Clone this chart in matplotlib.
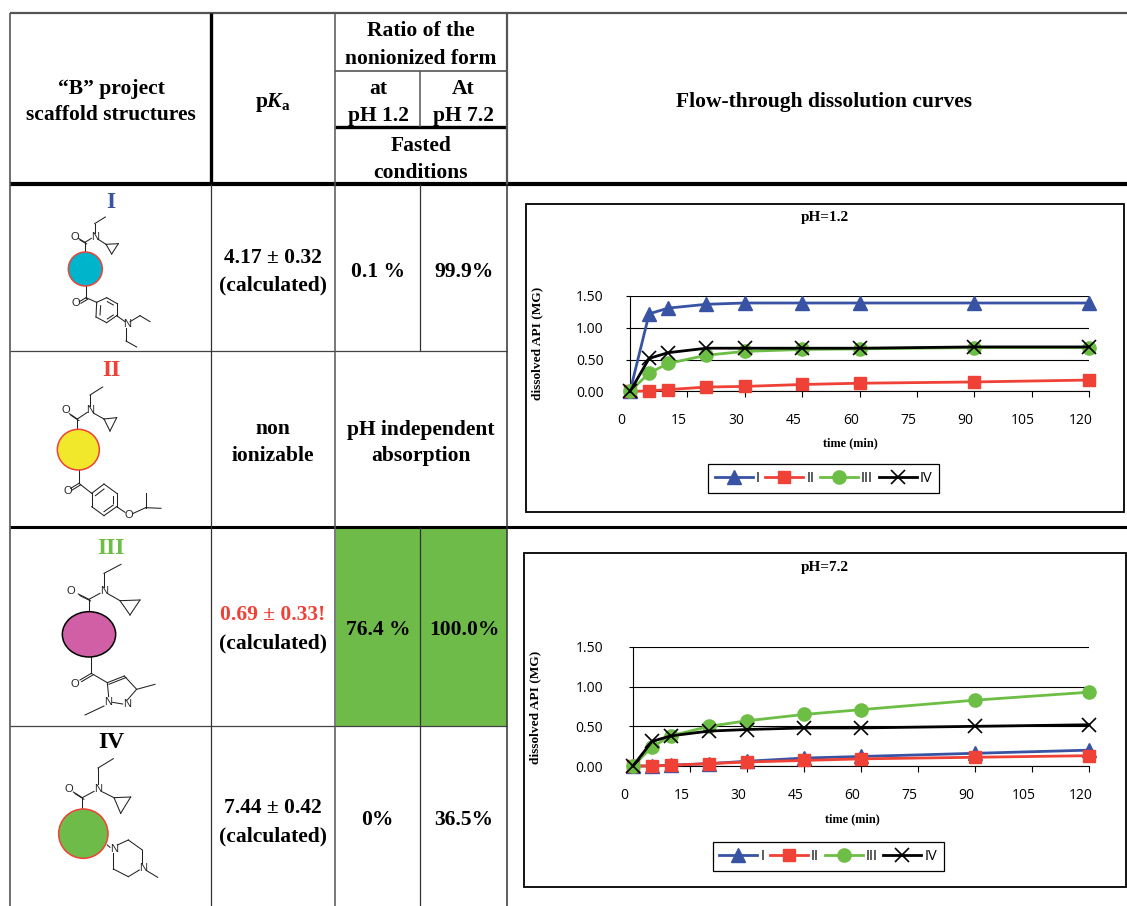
import matplotlib
matplotlib.use("Agg")
import matplotlib.pyplot as plt
from matplotlib.patches import Ellipse, Rectangle
from matplotlib.transforms import ScaledTranslation

W, H = 1127, 906
BLUE = "#3953A4"
RED = "#EF4136"
GREEN = "#6DBE45"

plt.rcParams["mathtext.fontset"] = "custom"
plt.rcParams["mathtext.rm"] = "Liberation Serif:bold"
plt.rcParams["mathtext.bf"] = "Liberation Serif:bold"
plt.rcParams["mathtext.it"] = "Liberation Serif:italic:bold"

# dissolution data
times = [0, 5, 10, 20, 30, 45, 60, 90, 120]
ph12_I = [0, 1.22, 1.31, 1.37, 1.39, 1.39, 1.39, 1.39, 1.39]
ph12_II = [0, 0.01, 0.03, 0.07, 0.08, 0.11, 0.13, 0.15, 0.18]
ph12_III = [0, 0.29, 0.44, 0.57, 0.63, 0.66, 0.67, 0.69, 0.69]
ph12_IV = [0, 0.52, 0.61, 0.68, 0.68, 0.68, 0.68, 0.70, 0.70]
ph72_I = [0, 0, 0.01, 0.03, 0.06, 0.10, 0.12, 0.16, 0.20]
ph72_II = [0, 0, 0.01, 0.03, 0.05, 0.07, 0.09, 0.11, 0.13]
ph72_III = [0, 0.24, 0.38, 0.50, 0.57, 0.65, 0.71, 0.83, 0.93]
ph72_IV = [0, 0.31, 0.38, 0.44, 0.46, 0.48, 0.48, 0.50, 0.52]
x_ticks = [0, 15, 30, 45, 60, 75, 90, 105, 120]
y_ticks = [0, 0.5, 1.0, 1.5]
y_tick_labels = ["0.00", "0.50", "1.00", "1.50"]

fig = plt.figure(figsize=(W / 100, H / 100), dpi=100, facecolor="white")

# overlay in pixel coordinates for the table and the structures
bg = fig.add_axes([0, 0, 1, 1])
bg.set_xlim(0, W)
bg.set_ylim(H, 0)
bg.axis("off")


def txt(x, y, s, size=15.5, color="black", **kw):
    bg.text(x, y + 2, s, fontsize=size, color=color, family="Liberation Serif",
            weight="bold", ha="center", va="center", **kw)


def hline(y, x0, x1, lw=1.0, color="black"):
    bg.plot([x0, x1], [y, y], color=color, lw=lw, solid_capstyle="butt", zorder=3)


def vline(x, y0, y1, lw=1.0, color="black"):
    bg.plot([x, x], [y0, y1], color=color, lw=lw, solid_capstyle="butt", zorder=3)


# green cells
bg.add_patch(Rectangle((336, 528), 171, 198, facecolor="#6FBB4A", edgecolor="none", zorder=1))

# table rules
hline(13, 10, W, 1.6, "#555555")
hline(184, 10, W, 3.0)
hline(527, 10, W, 2.2)
hline(351, 10, 507, 0.9, "#444444")
hline(726, 10, 507, 0.9, "#444444")
hline(71, 335, 507, 1.2, "#555555")
hline(127, 335, 507, 2.4)
vline(10, 13, H, 1.2, "#555555")
vline(211, 13, 184, 2.4)
vline(211, 184, H, 0.9, "#333333")
vline(335, 13, H, 1.1, "#555555")
vline(420, 71, 127, 1.1, "#555555")
vline(420, 184, 351, 0.9, "#333333")
vline(420, 527, H, 0.9, "#333333")
vline(507, 13, 184, 1.6, "#555555")
vline(507, 184, H, 1.1, "#333333")

# header text
txt(111, 87, "“B” project")
txt(111, 113, "scaffold structures")
txt(273, 101, r"$\mathrm{p}\mathit{K}_{\mathrm{a}}$")
txt(421, 29, "Ratio of the")
txt(421, 57, "nonionized form")
txt(378, 87, "at")
txt(378, 114, "pH 1.2")
txt(463, 87, "At")
txt(463, 114, "pH 7.2")
txt(421, 144, "Fasted")
txt(421, 171, "conditions")
txt(824, 100, "Flow-through dissolution curves")

# body text
txt(273, 256, "4.17 ± 0.32")
txt(273, 283, "(calculated)")
txt(378, 270, "0.1 %")
txt(464, 270, "99.9%")
txt(273, 427, "non")
txt(273, 454, "ionizable")
txt(421, 428, "pH independent")
txt(421, 454, "absorption")
txt(273, 613, "0.69 ± 0.33!", color=RED)
txt(273, 641, "(calculated)")
txt(378, 628, "76.4 %")
txt(464, 628, "100.0%")
txt(273, 806, "7.44 ± 0.42")
txt(273, 834, "(calculated)")
txt(377, 818, "0%")
txt(464, 818, "36.5%")

txt(111, 200, "I", size=17, color=BLUE)
txt(111, 369, "II", size=17, color=RED)
txt(111, 547, "III", size=17, color=GREEN)
txt(111, 741, "IV", size=17)


def molecule(ox, oy, bonds, doubles, atoms, blob):
    # coordinates are in a 3x sketch space, like the zoomed crops
    for a, b in bonds:
        bg.plot([ox + a[0] / 3, ox + b[0] / 3], [oy + a[1] / 3, oy + b[1] / 3],
                color="#222222", lw=0.75, zorder=4)
    for a, b in doubles:
        bg.plot([ox + a[0] / 3, ox + b[0] / 3], [oy + a[1] / 3, oy + b[1] / 3],
                color="#222222", lw=0.75, zorder=4)
        bg.plot([ox + a[0] / 3 + 1.6, ox + b[0] / 3 + 1.6], [oy + a[1] / 3 + 1.6, oy + b[1] / 3 + 1.6],
                color="#222222", lw=0.75, zorder=4)
    for x, y, s in atoms:
        bg.text(ox + x / 3, oy + y / 3, s, fontsize=8, family="Liberation Sans",
                color="#222222", ha="center", va="center", zorder=5)
    cx, cy, rx, ry, fc, ec = blob
    bg.add_patch(Ellipse((ox + cx / 3, oy + cy / 3), 2 * rx / 3, 2 * ry / 3,
                         facecolor=fc, edgecolor=ec, lw=1.1, zorder=4))


molecule(30, 185,
         [((226, 96), (194, 116)), ((194, 116), (194, 145)), ((203, 162), (228, 178)),
          ((228, 178), (265, 176)), ((265, 176), (245, 207)), ((245, 207), (228, 178)),
          ((184, 160), (165, 172)), ((165, 172), (165, 205)), ((168, 300), (168, 338)),
          ((168, 338), (200, 352)), ((200, 352), (230, 338)), ((230, 338), (260, 355)),
          ((260, 355), (260, 392)), ((260, 392), (230, 413)), ((230, 413), (198, 396)),
          ((198, 396), (200, 352)), ((212, 362), (210, 390)), ((232, 350), (250, 360)),
          ((232, 402), (250, 390)), ((260, 392), (285, 410)), ((300, 410), (330, 392)),
          ((330, 392), (360, 410)), ((288, 428), (288, 468)), ((288, 468), (320, 486))],
         [((165, 172), (145, 160)), ((168, 338), (148, 350))],
         [(194, 155, "N"), (133, 156, "O"), (138, 354, "O"), (292, 417, "N")],
         (166, 252, 51, 51, "#00B4CC", RED))

molecule(30, 185,
         [((218, 606), (180, 630)), ((180, 630), (180, 662)), ((142, 702), (172, 682)),
          ((190, 684), (222, 702)), ((222, 702), (260, 698)), ((260, 698), (240, 738)),
          ((240, 738), (222, 702)), ((142, 702), (142, 735)), ((147, 855), (147, 895)),
          ((147, 895), (185, 925)), ((185, 925), (222, 897)), ((222, 897), (260, 925)),
          ((260, 925), (260, 965)), ((260, 965), (222, 992)), ((222, 992), (185, 965)),
          ((185, 965), (185, 925)), ((196, 932), (222, 912)), ((222, 980), (250, 960)),
          ((250, 932), (250, 955)), ((260, 965), (285, 982)), ((310, 985), (347, 968)),
          ((347, 968), (347, 925)), ((347, 968), (393, 970))],
         [((142, 702), (118, 686)), ((147, 895), (122, 910))],
         [(180, 676, "N"), (108, 676, "O"), (112, 918, "O"), (297, 990, "O")],
         (145, 794, 63, 61, "#F2E82B", RED))

molecule(30, 530,
         [((273, 103), (222, 130)), ((222, 130), (222, 172)), ((177, 208), (210, 190)),
          ((235, 192), (270, 212)), ((270, 212), (330, 210)), ((330, 210), (300, 255)),
          ((300, 255), (270, 212)), ((177, 208), (177, 245)), ((184, 380), (184, 430)),
          ((184, 430), (232, 458)), ((232, 458), (236, 500)), ((248, 517), (278, 522)),
          ((292, 510), (318, 480)), ((320, 478), (283, 438)), ((320, 478), (375, 463)),
          ((222, 528), (165, 555))],
         [((177, 208), (145, 192)), ((184, 430), (150, 450)), ((232, 458), (283, 438))],
         [(222, 184, "N"), (123, 184, "O"), (133, 463, "O"), (235, 515, "N"), (292, 522, "N")],
         (177, 313, 80, 68, "#D05FA5", "black"))

molecule(30, 530,
         [((250, 686), (204, 714)), ((204, 714), (204, 762)), ((157, 803), (192, 784)),
          ((218, 786), (252, 803)), ((252, 803), (302, 801)), ((302, 801), (272, 850)),
          ((272, 850), (252, 803)), ((157, 803), (157, 838)), ((232, 945), (240, 952)),
          ((262, 945), (295, 930)), ((295, 930), (337, 960)), ((337, 960), (337, 1000)),
          ((328, 1020), (295, 1040)), ((295, 1040), (250, 1017)), ((250, 1017), (250, 970)),
          ((350, 1022), (383, 1042))],
         [((157, 803), (130, 786))],
         [(204, 776, "N"), (116, 776, "O"), (252, 957, "N"), (340, 1015, "N")],
         (160, 911, 74, 74, "#6FBB4A", RED))


def chart(frame, plot_box, title, title_xy, series, xlabel_xy, ylabel_xy, ylabel, legend_box, ypad):
    # outer frame of the chart
    bg.add_patch(Rectangle((frame[0], frame[1]), frame[2] - frame[0], frame[3] - frame[1],
                           facecolor="white", edgecolor="black", lw=1.3, zorder=2))
    x0, y0, x1, y1 = plot_box
    ax = fig.add_axes([x0 / W, 1 - y1 / H, (x1 - x0) / W, (y1 - y0) / H])
    ax.patch.set_alpha(0)
    ax.set_xlim(0, 120)
    ax.set_ylim(0, 1.5)
    ax.set_yticks(y_ticks)
    ax.set_yticklabels(y_tick_labels, family="Open Sans", fontsize=10)
    ax.set_xticks(x_ticks)
    ax.set_xticklabels([str(t) for t in x_ticks], family="Open Sans", fontsize=10)
    ax.tick_params(axis="y", length=3, width=0.8, pad=ypad)
    ax.tick_params(axis="x", length=4.5, width=0.8, pad=11)
    # labels sit left of their ticks in the reference
    shift = ScaledTranslation(-8.5 / 100, 0, fig.dpi_scale_trans)
    for lab in ax.get_xticklabels():
        lab.set_transform(lab.get_transform() + shift)
    ax.grid(axis="y", color="black", lw=0.8)
    ax.set_axisbelow(True)
    for side in ["top", "right"]:
        ax.spines[side].set_visible(False)
    for side in ["left", "bottom"]:
        ax.spines[side].set_linewidth(0.8)

    vals_I, vals_II, vals_III, vals_IV = series
    ax.plot(times, vals_I, color=BLUE, lw=2, marker="^", ms=9.5, clip_on=False, label="I", zorder=5)
    ax.plot(times, vals_II, color=RED, lw=2, marker="s", ms=9, clip_on=False, label="II", zorder=6)
    ax.plot(times, vals_III, color=GREEN, lw=2, marker="o", ms=9.5, clip_on=False, label="III", zorder=7)
    ax.plot(times, vals_IV, color="black", lw=2, marker="x", ms=10, mew=1.2, clip_on=False, label="IV", zorder=8)

    bg.text(title_xy[0], title_xy[1], title, fontsize=11, family="Liberation Serif", weight="bold",
            ha="center", va="center", zorder=6)
    bg.text(xlabel_xy[0], xlabel_xy[1], "time (min)", fontsize=8.8, family="Liberation Serif",
            weight="bold", ha="center", va="center", zorder=6)
    bg.text(ylabel_xy[0], ylabel_xy[1], ylabel, fontsize=9.6, family="Liberation Serif",
            weight="bold", rotation=90, ha="center", va="center", zorder=6)

    lx0, ly0, lx1, ly1 = legend_box
    leg = ax.legend(loc="center", bbox_to_anchor=((lx0 + lx1) / 2 / W, 1 - (ly0 + ly1) / 2 / H),
                    bbox_transform=fig.transFigure, ncol=4, frameon=True, fancybox=False,
                    framealpha=1, edgecolor="black", prop={"family": "Open Sans", "size": 10.5},
                    handlelength=2.6, handletextpad=0.2, columnspacing=0.4,
                    borderpad=0.45, borderaxespad=0)
    leg.get_frame().set_linewidth(0.9)
    return ax


chart((526, 204, 1124, 512), (630, 296, 1089, 391.5), "pH=1.2", (825, 217),
      [ph12_I, ph12_II, ph12_III, ph12_IV], (850, 443), (537.5, 343), "dissolved API (MG)",
      (706, 464, 941, 493), 16)
chart((524, 553, 1126, 887), (633, 647, 1089, 766), "pH=7.2", (825, 567),
      [ph72_I, ph72_II, ph72_III, ph72_IV], (852, 819), (535.5, 707), "dissolved API (MG)",
      (709.5, 841, 947, 872), 18.5)

fig.savefig("out.png", dpi=100)
